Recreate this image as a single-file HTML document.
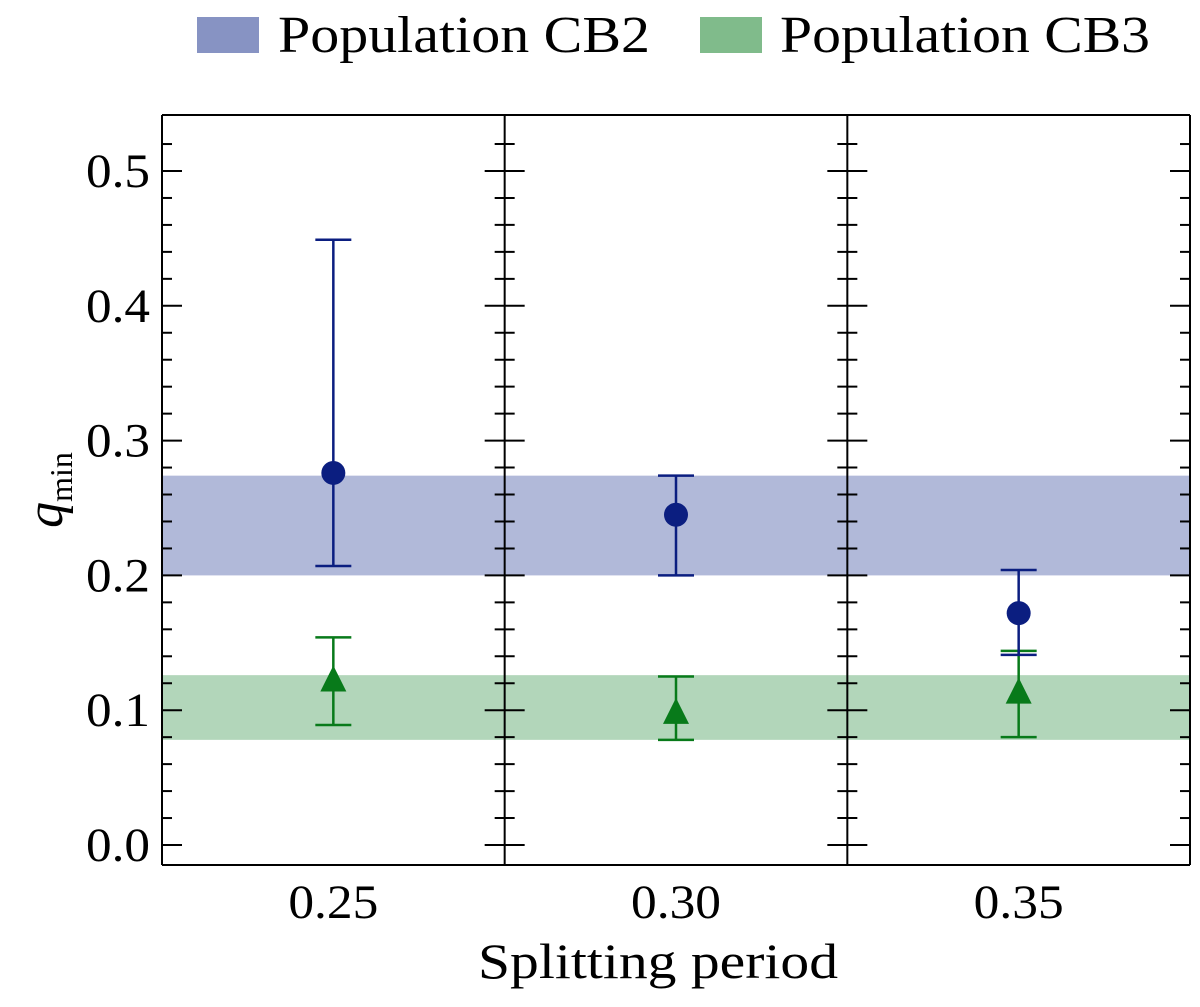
<!DOCTYPE html>
<html><head><meta charset="utf-8"><style>
html,body{margin:0;padding:0;background:#fff;}
svg text{font-family:"Liberation Serif",serif;fill:#000;}
</style></head><body>
<svg id="chart" width="1200" height="1002" xmlns="http://www.w3.org/2000/svg">
<g id="legend">
  <rect x="197" y="17" width="62" height="36" fill="#8793c3"/>
  <text x="278" y="52" font-size="52" textLength="372" lengthAdjust="spacingAndGlyphs">Population CB2</text>
  <rect x="700" y="17" width="62" height="36" fill="#80bb8b"/>
  <text x="780" y="52" font-size="52" textLength="370" lengthAdjust="spacingAndGlyphs">Population CB3</text>
</g>
<g id="plot"></g>
<text x="478" y="978" font-size="50" textLength="360" lengthAdjust="spacingAndGlyphs">Splitting period</text>
<text transform="translate(62,490) rotate(-90)" font-size="52" text-anchor="middle" font-style="italic">q<tspan font-style="normal" font-size="32" dy="10">min</tspan></text>
</svg>
<script>
const periods = ["0.25","0.30","0.35"];
const cb2Values = [0.276,0.245,0.172];
const cb2Lower = [0.207,0.200,0.141];
const cb2Upper = [0.449,0.274,0.204];
const cb3Values = [0.122,0.098,0.113];
const cb3Lower = [0.089,0.078,0.080];
const cb3Upper = [0.154,0.125,0.144];
const cb2Band = [0.200,0.274];
const cb3Band = [0.078,0.126];
const yTicks = ["0.0","0.1","0.2","0.3","0.4","0.5"];

const NS="http://www.w3.org/2000/svg";
const g=document.getElementById('plot');
const plotTop=115,plotBottom=865,plotLeft=162,plotRight=1190;
const pw=(plotRight-plotLeft)/periods.length;
function y(v){return 845-v*1348;}
function px(i){return plotLeft+pw*i;}
function cx(i){return px(i)+pw/2;}
function mk(tag,attrs,parent){const e=document.createElementNS(NS,tag);for(const k in attrs)e.setAttribute(k,attrs[k]);(parent||g).appendChild(e);return e;}

let b=mk('rect',{x:plotLeft,y:y(cb2Band[1]),width:plotRight-plotLeft,height:y(cb2Band[0])-y(cb2Band[1]),fill:'#b1b9d9'});


b=mk('rect',{x:plotLeft,y:y(cb3Band[1]),width:plotRight-plotLeft,height:y(cb3Band[0])-y(cb3Band[1]),fill:'#b2d6ba'});



for(let i=0;i<=periods.length;i++){
  const x=px(i);
  let l=mk('line',{x1:x,y1:plotTop,x2:x,y2:plotBottom,stroke:'#000','stroke-width':2});
  
  
  for(let k=0;k<=27;k++){
    const v=-0.02+k*0.02; const yy=y(v);
    if(yy<plotTop+2||yy>plotBottom-2)continue;
    const major=Math.abs(Math.round(v*10)-v*10)<1e-6;
    const len=major?20:10;
    const x1=i===0?x:x-len, x2=i===periods.length?x:x+len;
    const t=mk('line',{x1:x1,y1:yy,x2:x2,y2:yy,stroke:'#000','stroke-width':2});
    
    
  }
}
let f=mk('line',{x1:plotLeft,y1:plotTop,x2:plotRight,y2:plotTop,stroke:'#000','stroke-width':2});


f=mk('line',{x1:plotLeft,y1:plotBottom,x2:plotRight,y2:plotBottom,stroke:'#000','stroke-width':2});



yTicks.forEach(t=>{
  const e=mk('text',{x:86,y:y(parseFloat(t))+16,'font-size':48,textLength:64,lengthAdjust:'spacingAndGlyphs'});
  e.textContent=t;
  
  
});
periods.forEach((p,i)=>{
  const e=mk('text',{x:cx(i)-45,y:918,'font-size':48,textLength:90,lengthAdjust:'spacingAndGlyphs'});
  e.textContent=p;
  
  
});

function errbar(x,lo,hi,col,name){
  const gg=mk('g',{stroke:col,'stroke-width':2.5});
  
  
  mk('line',{x1:x,y1:y(lo),x2:x,y2:y(hi)},gg);
  mk('line',{x1:x-18,y1:y(lo),x2:x+18,y2:y(lo)},gg);
  mk('line',{x1:x-18,y1:y(hi),x2:x+18,y2:y(hi)},gg);
}
periods.forEach((p,i)=>{
  const x=cx(i);
  errbar(x,cb3Lower[i],cb3Upper[i],'#087a1a','cb3-errorbar');
  const yy=y(cb3Values[i]);
  const tr=mk('polygon',{points:`${x},${yy-15} ${x-13},${yy+11} ${x+13},${yy+11}`,fill:'#087a1a'});
  
  
  errbar(x,cb2Lower[i],cb2Upper[i],'#0b1e80','cb2-errorbar');
  const c=mk('circle',{cx:x,cy:y(cb2Values[i]),r:12,fill:'#0b1e80'});
  
  
});
</script>
</body></html>
